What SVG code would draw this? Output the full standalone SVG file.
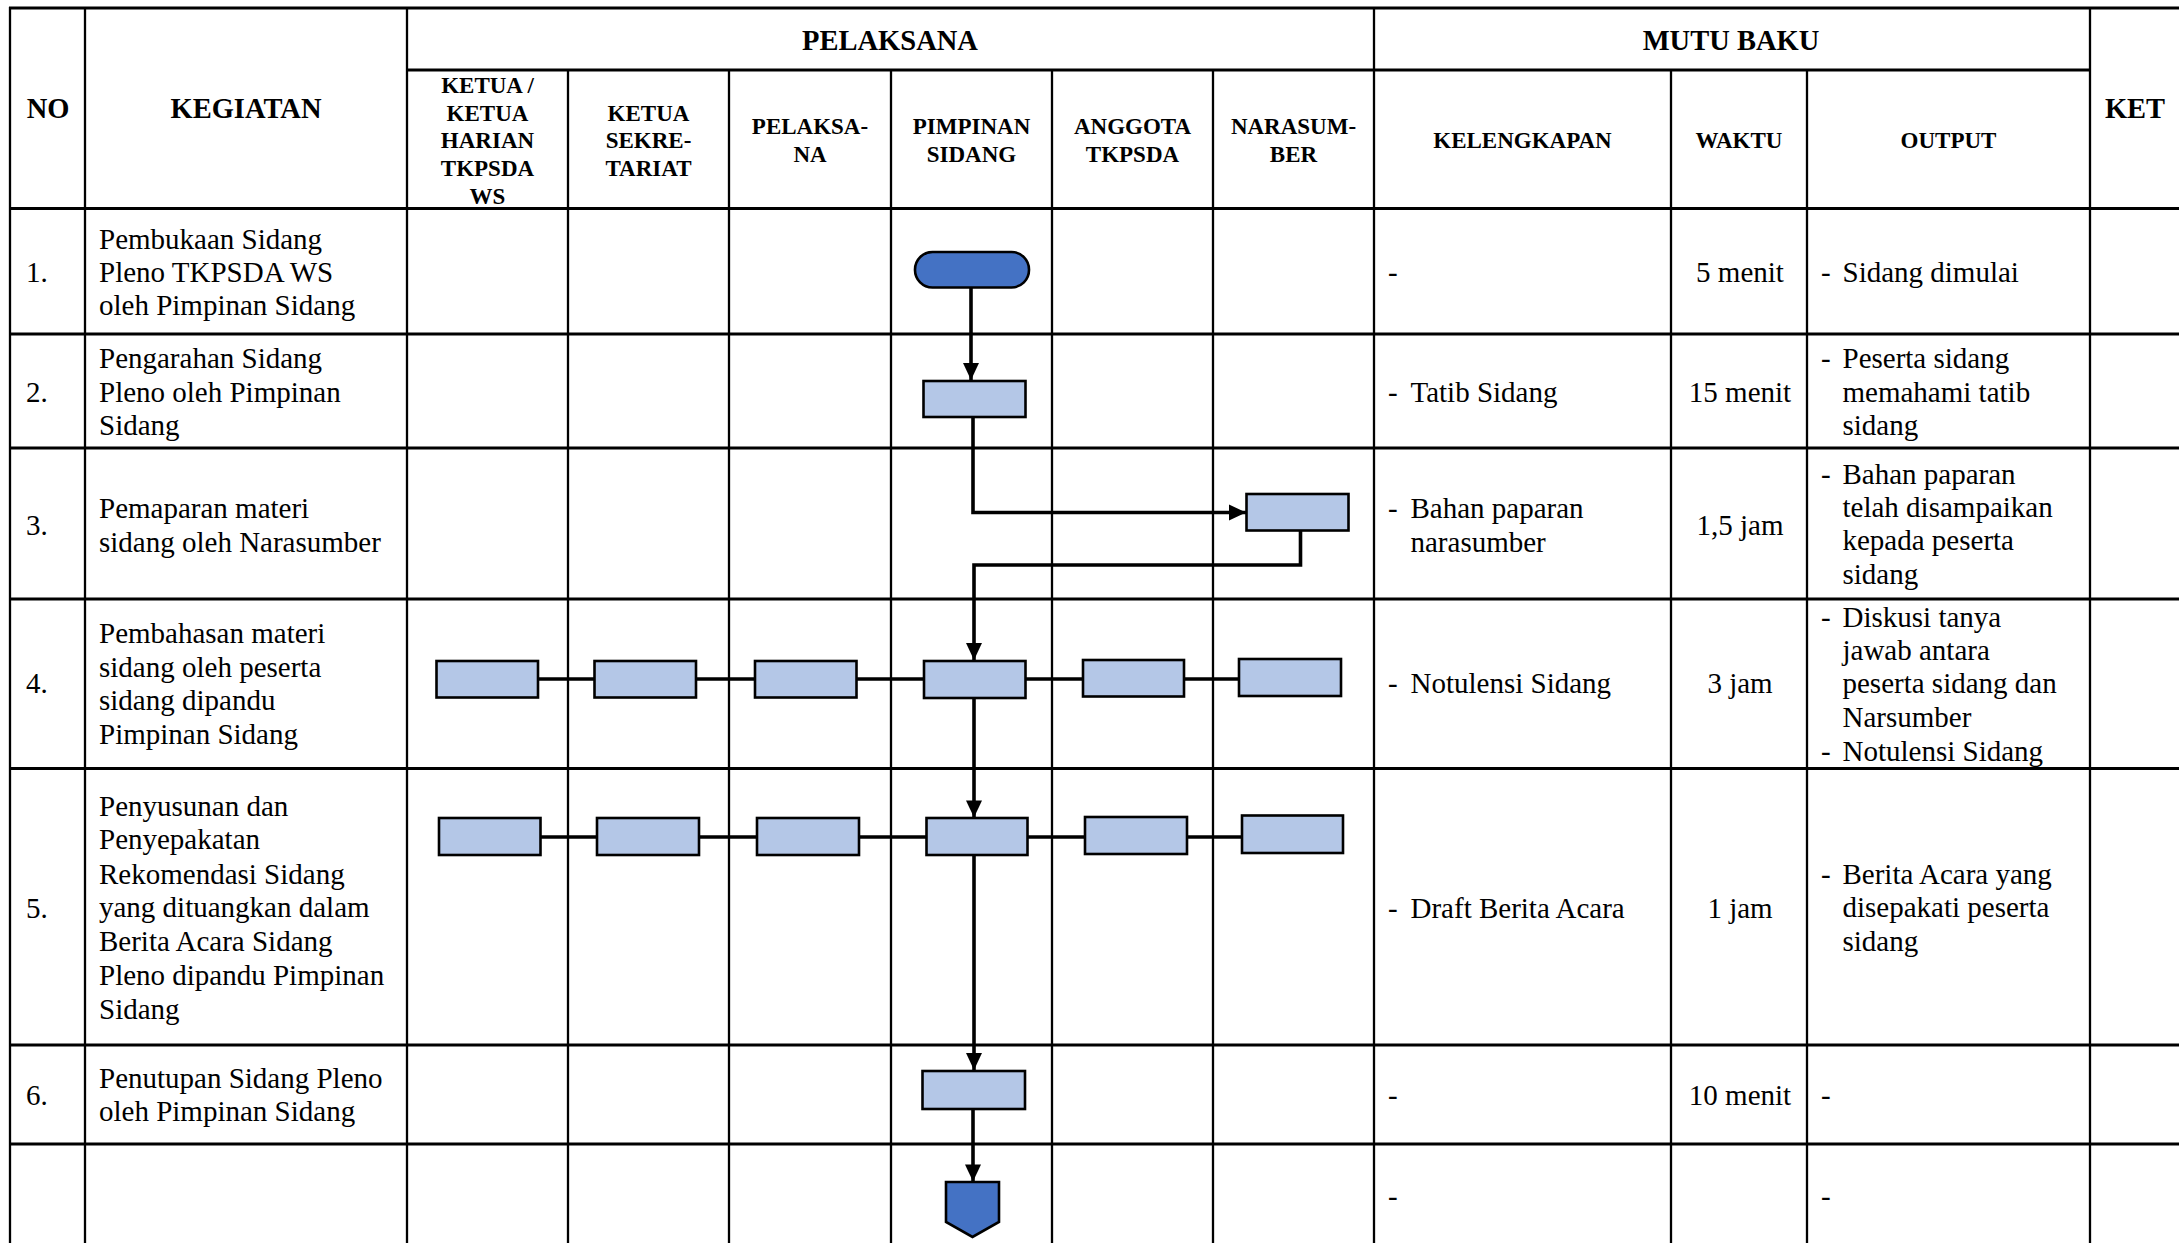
<svg xmlns="http://www.w3.org/2000/svg" width="2179" height="1243" viewBox="0 0 2179 1243">
<style>
.hd{font-family:"Liberation Serif","Times New Roman",serif;font-weight:bold;text-anchor:middle;fill:#000}
.h1{font-size:28.5px}
.h2{font-size:23px}
.t{font-family:"Liberation Serif","Times New Roman",serif;font-size:29px;fill:#000}
.c{text-anchor:middle}
.gh{stroke:#000;stroke-width:3.2;fill:none}
.gv{stroke:#000;stroke-width:2.3;fill:none}
.proc{fill:#B4C7E7;stroke:#000;stroke-width:2.6}
.term{fill:#4472C4;stroke:#000;stroke-width:2.6}
.conn{fill:none;stroke:#000;stroke-width:3.6}
</style>
<defs>
<marker id="arr" markerUnits="userSpaceOnUse" markerWidth="20" markerHeight="20" refX="17" refY="8" orient="auto" overflow="visible">
<path d="M0,0 L17,8 L0,16 z" fill="#000"/>
</marker>
</defs>
<rect x="0" y="0" width="2179" height="1243" fill="#fff"/>
<g id="table-grid">
<line class="gh" x1="9" y1="8" x2="2179" y2="8" stroke-width="3.5"/>
<line class="gh" x1="407" y1="70" x2="2090" y2="70"/>
<line class="gh" x1="9" y1="208.5" x2="2179" y2="208.5"/>
<line class="gh" x1="9" y1="334" x2="2179" y2="334"/>
<line class="gh" x1="9" y1="448" x2="2179" y2="448"/>
<line class="gh" x1="9" y1="599" x2="2179" y2="599"/>
<line class="gh" x1="9" y1="768.5" x2="2179" y2="768.5"/>
<line class="gh" x1="9" y1="1045" x2="2179" y2="1045"/>
<line class="gh" x1="9" y1="1144" x2="2179" y2="1144"/>
<line class="gv" x1="10" y1="7" x2="10" y2="1243" stroke-width="3.5"/>
<line class="gv" x1="85" y1="8" x2="85" y2="1243"/>
<line class="gv" x1="407" y1="8" x2="407" y2="1243"/>
<line class="gv" x1="568" y1="70" x2="568" y2="1243"/>
<line class="gv" x1="729" y1="70" x2="729" y2="1243"/>
<line class="gv" x1="891" y1="70" x2="891" y2="1243"/>
<line class="gv" x1="1052" y1="70" x2="1052" y2="1243"/>
<line class="gv" x1="1213" y1="70" x2="1213" y2="1243"/>
<line class="gv" x1="1374" y1="8" x2="1374" y2="1243"/>
<line class="gv" x1="1671" y1="70" x2="1671" y2="1243"/>
<line class="gv" x1="1807" y1="70" x2="1807" y2="1243"/>
<line class="gv" x1="2090" y1="8" x2="2090" y2="1243"/>
</g>
<g id="header">
<text class="hd h1" x="48" y="118">NO</text>
<text class="hd h1" x="246" y="118">KEGIATAN</text>
<text class="hd h1" x="890" y="49.5">PELAKSANA</text>
<text class="hd h1" x="1731" y="49.5">MUTU BAKU</text>
<text class="hd h1" x="2135" y="118">KET</text>
<text class="hd h2" x="487.5" y="92.5">KETUA /</text>
<text class="hd h2" x="487.5" y="120.5">KETUA</text>
<text class="hd h2" x="487.5" y="148">HARIAN</text>
<text class="hd h2" x="487.5" y="176">TKPSDA</text>
<text class="hd h2" x="487.5" y="204">WS</text>
<text class="hd h2" x="648.5" y="120.5">KETUA</text>
<text class="hd h2" x="648.5" y="148">SEKRE-</text>
<text class="hd h2" x="648.5" y="176">TARIAT</text>
<text class="hd h2" x="810" y="134">PELAKSA-</text>
<text class="hd h2" x="810" y="162">NA</text>
<text class="hd h2" x="971.5" y="134">PIMPINAN</text>
<text class="hd h2" x="971.5" y="162">SIDANG</text>
<text class="hd h2" x="1132.5" y="134">ANGGOTA</text>
<text class="hd h2" x="1132.5" y="162">TKPSDA</text>
<text class="hd h2" x="1293.5" y="134">NARASUM-</text>
<text class="hd h2" x="1293.5" y="162">BER</text>
<text class="hd h2" x="1522.5" y="148">KELENGKAPAN</text>
<text class="hd h2" x="1739" y="148">WAKTU</text>
<text class="hd h2" x="1948.5" y="148">OUTPUT</text>
</g>
<g id="row-texts">
<text class="t" x="26" y="282">1.</text>
<text class="t" x="99" y="248.5">Pembukaan Sidang</text>
<text class="t" x="99" y="282">Pleno TKPSDA WS</text>
<text class="t" x="99" y="315">oleh Pimpinan Sidang</text>
<text class="t" x="1388" y="282">-</text>
<text class="t c" x="1740" y="282">5 menit</text>
<text class="t" x="1821" y="282">-</text>
<text class="t" x="1842.5" y="282">Sidang dimulai</text>

<text class="t" x="26" y="401.5">2.</text>
<text class="t" x="99" y="368">Pengarahan Sidang</text>
<text class="t" x="99" y="401.5">Pleno oleh Pimpinan</text>
<text class="t" x="99" y="435">Sidang</text>
<text class="t" x="1388" y="401.5">-</text>
<text class="t" x="1410.5" y="401.5">Tatib Sidang</text>
<text class="t c" x="1740" y="401.5">15 menit</text>
<text class="t" x="1821" y="368">-</text>
<text class="t" x="1842.5" y="368">Peserta sidang</text>
<text class="t" x="1842.5" y="401.5">memahami tatib</text>
<text class="t" x="1842.5" y="435">sidang</text>

<text class="t" x="26" y="535">3.</text>
<text class="t" x="99" y="518">Pemaparan materi</text>
<text class="t" x="99" y="551.5">sidang oleh Narasumber</text>
<text class="t" x="1388" y="518">-</text>
<text class="t" x="1410.5" y="518">Bahan paparan</text>
<text class="t" x="1410.5" y="551.5">narasumber</text>
<text class="t c" x="1740" y="535">1,5 jam</text>
<text class="t" x="1821" y="483.5">-</text>
<text class="t" x="1842.5" y="483.5">Bahan paparan</text>
<text class="t" x="1842.5" y="517">telah disampaikan</text>
<text class="t" x="1842.5" y="550">kepada peserta</text>
<text class="t" x="1842.5" y="583.5">sidang</text>

<text class="t" x="26" y="693">4.</text>
<text class="t" x="99" y="643">Pembahasan materi</text>
<text class="t" x="99" y="676.5">sidang oleh peserta</text>
<text class="t" x="99" y="710">sidang dipandu</text>
<text class="t" x="99" y="743.5">Pimpinan Sidang</text>
<text class="t" x="1388" y="693">-</text>
<text class="t" x="1410.5" y="693">Notulensi Sidang</text>
<text class="t c" x="1740" y="693">3 jam</text>
<text class="t" x="1821" y="626.5">-</text>
<text class="t" x="1842.5" y="626.5">Diskusi tanya</text>
<text class="t" x="1842.5" y="660">jawab antara</text>
<text class="t" x="1842.5" y="693">peserta sidang dan</text>
<text class="t" x="1842.5" y="726.5">Narsumber</text>
<text class="t" x="1821" y="761">-</text>
<text class="t" x="1842.5" y="761">Notulensi Sidang</text>

<text class="t" x="26" y="918">5.</text>
<text class="t" x="99" y="815.5">Penyusunan dan</text>
<text class="t" x="99" y="849">Penyepakatan</text>
<text class="t" x="99" y="883.5">Rekomendasi Sidang</text>
<text class="t" x="99" y="917">yang dituangkan dalam</text>
<text class="t" x="99" y="950.5">Berita Acara Sidang</text>
<text class="t" x="99" y="985">Pleno dipandu Pimpinan</text>
<text class="t" x="99" y="1018.5">Sidang</text>
<text class="t" x="1388" y="918">-</text>
<text class="t" x="1410.5" y="918">Draft Berita Acara</text>
<text class="t c" x="1740" y="918">1 jam</text>
<text class="t" x="1821" y="883.5">-</text>
<text class="t" x="1842.5" y="883.5">Berita Acara yang</text>
<text class="t" x="1842.5" y="917">disepakati peserta</text>
<text class="t" x="1842.5" y="950.5">sidang</text>

<text class="t" x="26" y="1104.5">6.</text>
<text class="t" x="99" y="1088">Penutupan Sidang Pleno</text>
<text class="t" x="99" y="1121">oleh Pimpinan Sidang</text>
<text class="t" x="1388" y="1104.5">-</text>
<text class="t c" x="1740" y="1104.5">10 menit</text>
<text class="t" x="1821" y="1104.5">-</text>

<text class="t" x="1388" y="1206">-</text>
<text class="t" x="1821" y="1206">-</text>
</g>
<g id="connectors">
<path class="conn" d="M971,287 V380" marker-end="url(#arr)"/>
<path class="conn" d="M973,417 V512.5 H1246" marker-end="url(#arr)"/>
<path class="conn" d="M1300.5,530 V565 H974 V660" marker-end="url(#arr)"/>
<path class="conn" d="M974,698 V817.5" marker-end="url(#arr)"/>
<path class="conn" d="M974,855 V1070" marker-end="url(#arr)"/>
<path class="conn" d="M973,1109 V1181.5" marker-end="url(#arr)"/>
<path class="conn" d="M538,679 H1239"/>
<path class="conn" d="M540,837 H1242"/>
</g>
<g id="n1-start"><rect class="term" x="915" y="252" width="114" height="35.5" rx="17.5"/></g>
<g id="n2"><rect class="proc" x="923.5" y="381" width="102" height="36"/></g>
<g id="n3"><rect class="proc" x="1246.5" y="494" width="102" height="36.5"/></g>
<g id="n4a"><rect class="proc" x="436.5" y="661" width="101.5" height="36.5"/></g>
<g id="n4b"><rect class="proc" x="594.5" y="661" width="101.5" height="36.5"/></g>
<g id="n4c"><rect class="proc" x="755" y="661" width="101.5" height="36.5"/></g>
<g id="n4d"><rect class="proc" x="924" y="661" width="101.5" height="37"/></g>
<g id="n4e"><rect class="proc" x="1083" y="660" width="101" height="36.5"/></g>
<g id="n4f"><rect class="proc" x="1239" y="659" width="102" height="37"/></g>
<g id="n5a"><rect class="proc" x="439" y="818" width="101.5" height="37"/></g>
<g id="n5b"><rect class="proc" x="597" y="818" width="102" height="37"/></g>
<g id="n5c"><rect class="proc" x="757" y="818" width="102" height="37"/></g>
<g id="n5d"><rect class="proc" x="926.5" y="818" width="101" height="37"/></g>
<g id="n5e"><rect class="proc" x="1085" y="817" width="102" height="37"/></g>
<g id="n5f"><rect class="proc" x="1242" y="815.5" width="101" height="37.5"/></g>
<g id="n6"><rect class="proc" x="922.5" y="1071" width="102.5" height="38"/></g>
<g id="n7-end"><polygon class="term" points="946,1182 999,1182 999,1222 972.5,1237 946,1222"/></g>
</svg>
